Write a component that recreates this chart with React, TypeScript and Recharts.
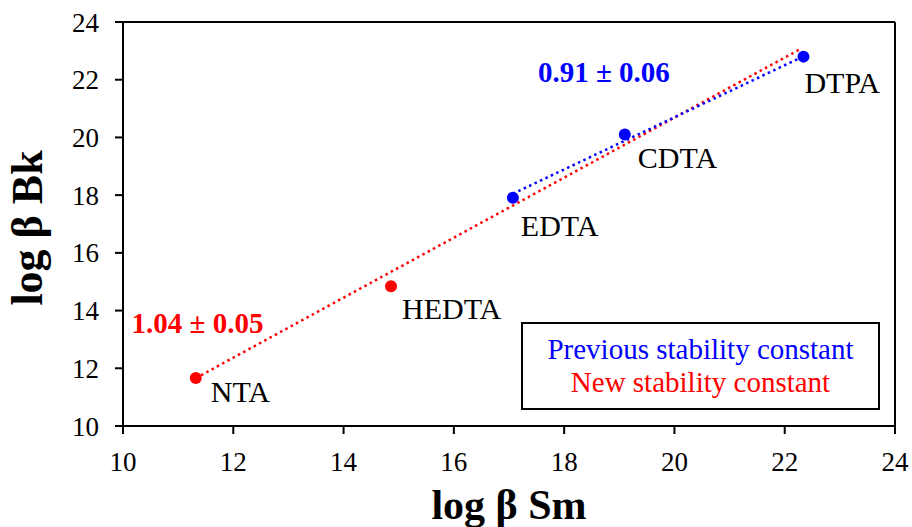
import {
  ScatterChart,
  Scatter,
  XAxis,
  YAxis,
  ReferenceLine,
  ReferenceDot,
  Legend,
  Label,
} from 'recharts';

// new stability constants (red)
const newNames = ['NTA', 'HEDTA'];
const newSm = [11.32, 14.86];
const newBk = [11.66, 14.84];

// previous stability constants (blue)
const prevNames = ['EDTA', 'CDTA', 'DTPA'];
const prevSm = [17.07, 19.1, 22.34];
const prevBk = [17.91, 20.1, 22.8];

// fitted lines, end points
const newFitSm = [11.32, 22.31];
const newFitBk = [11.66, 23.09];
const prevFitSm = [17.07, 22.34];
const prevFitBk = [18.05, 22.81];

const ticks = [10, 12, 14, 16, 18, 20, 22, 24];

const RED = '#FF0000';
const BLUE = '#0000FF';
const FONT = '"Liberation Serif", "Times New Roman", serif';

// where each name sits relative to its dot
const labelOffset: Record<string, [number, number]> = {
  NTA: [15, 24],
  HEDTA: [11, 33],
  EDTA: [8, 38],
  CDTA: [13, 33],
  DTPA: [1, 36],
};

const toPoints = (xs: number[], ys: number[], names?: string[]) =>
  xs.map((x, i) => ({ x, y: ys[i], name: names ? names[i] : '' }));

const newPoints = toPoints(newSm, newBk, newNames);
const prevPoints = toPoints(prevSm, prevBk, prevNames);
const newFit = toPoints(newFitSm, newFitBk);
const prevFit = toPoints(prevFitSm, prevFitBk);

const makeDot = (color: string) => (props: any) => {
  const { cx, cy, payload } = props;
  const [dx, dy] = labelOffset[payload.name] || [10, 30];
  return (
    <g>
      <circle cx={cx} cy={cy} r={6} fill={color} />
      <text x={cx + dx} y={cy + dy} fontSize={30} fontFamily={FONT} fill="#000">
        {payload.name}
      </text>
    </g>
  );
};

const noDot = () => <g />;

const renderLegend = () => (
  <div
    style={{
      boxSizing: 'border-box',
      width: 359,
      height: 88,
      border: '2px solid #000',
      background: '#fff',
      fontFamily: FONT,
      fontSize: 29,
      lineHeight: '33px',
      textAlign: 'center',
      paddingTop: 9,
    }}
  >
    <div style={{ color: BLUE }}>Previous stability constant</div>
    <div style={{ color: RED }}>New stability constant</div>
  </div>
);

const tickStyle = { fontSize: 27, fontFamily: FONT, fill: '#000' };

const App = () => {
  return (
    <div style={{ position: 'absolute', left: 0, top: 0 }}>
      <ScatterChart
        width={912}
        height={527}
        margin={{ top: 22, right: 17, bottom: 0, left: 0 }}
      >
        <XAxis
          type="number"
          dataKey="x"
          domain={[10, 24]}
          ticks={ticks}
          interval={0}
          height={101}
          tickSize={8}
          tickMargin={18}
          tick={tickStyle}
          axisLine={{ stroke: '#000', strokeWidth: 2 }}
          tickLine={{ stroke: '#000', strokeWidth: 2 }}
        >
          <Label
            content={({ viewBox }: any) => (
              <text
                x={viewBox.x + viewBox.width / 2}
                y={viewBox.y + viewBox.height - 8}
                textAnchor="middle"
                fontSize={42}
                fontWeight="bold"
                fontFamily={FONT}
                fill="#000"
              >
                log β Sm
              </text>
            )}
          />
        </XAxis>
        <YAxis
          type="number"
          dataKey="y"
          domain={[10, 24]}
          ticks={ticks}
          interval={0}
          width={123}
          tickSize={8}
          tickMargin={16}
          tick={tickStyle}
          axisLine={{ stroke: '#000', strokeWidth: 2 }}
          tickLine={{ stroke: '#000', strokeWidth: 2 }}
        >
          <Label
            content={({ viewBox }: any) => {
              const x = 42;
              const y = viewBox.y + viewBox.height / 2 + 4;
              return (
                <text
                  x={x}
                  y={y}
                  transform={`rotate(-90 ${x} ${y})`}
                  textAnchor="middle"
                  fontSize={44}
                  fontWeight="bold"
                  fontFamily={FONT}
                  fill="#000"
                >
                  log β Bk
                </text>
              );
            }}
          />
        </YAxis>
        <ReferenceLine y={24} stroke="#000" strokeWidth={2} />
        <ReferenceLine x={24} stroke="#000" strokeWidth={2} />
        <Scatter
          data={newFit}
          line={{ stroke: RED, strokeWidth: 2.5, strokeDasharray: '2.5 3.5' }}
          shape={noDot}
          legendType="none"
          isAnimationActive={false}
        />
        <Scatter
          data={prevFit}
          line={{ stroke: BLUE, strokeWidth: 2.5, strokeDasharray: '2.5 3.5' }}
          shape={noDot}
          legendType="none"
          isAnimationActive={false}
        />
        <Scatter data={newPoints} shape={makeDot(RED)} isAnimationActive={false} />
        <Scatter data={prevPoints} shape={makeDot(BLUE)} isAnimationActive={false} />
        <ReferenceDot
          x={11.35}
          y={13.57}
          r={0}
          fill="none"
          stroke="none"
          label={{
            value: '1.04 ± 0.05',
            position: 'center',
            fill: RED,
            fontSize: 29,
            fontWeight: 'bold',
            fontFamily: FONT,
          }}
        />
        <ReferenceDot
          x={18.72}
          y={22.28}
          r={0}
          fill="none"
          stroke="none"
          label={{
            value: '0.91 ± 0.06',
            position: 'center',
            fill: BLUE,
            fontSize: 29,
            fontWeight: 'bold',
            fontFamily: FONT,
          }}
        />
        <Legend
          content={renderLegend}
          layout="horizontal"
          verticalAlign="middle"
          align="center"
          wrapperStyle={{ left: 521, top: 322, width: 359, height: 88 }}
        />
      </ScatterChart>
    </div>
  );
};

export default App;
